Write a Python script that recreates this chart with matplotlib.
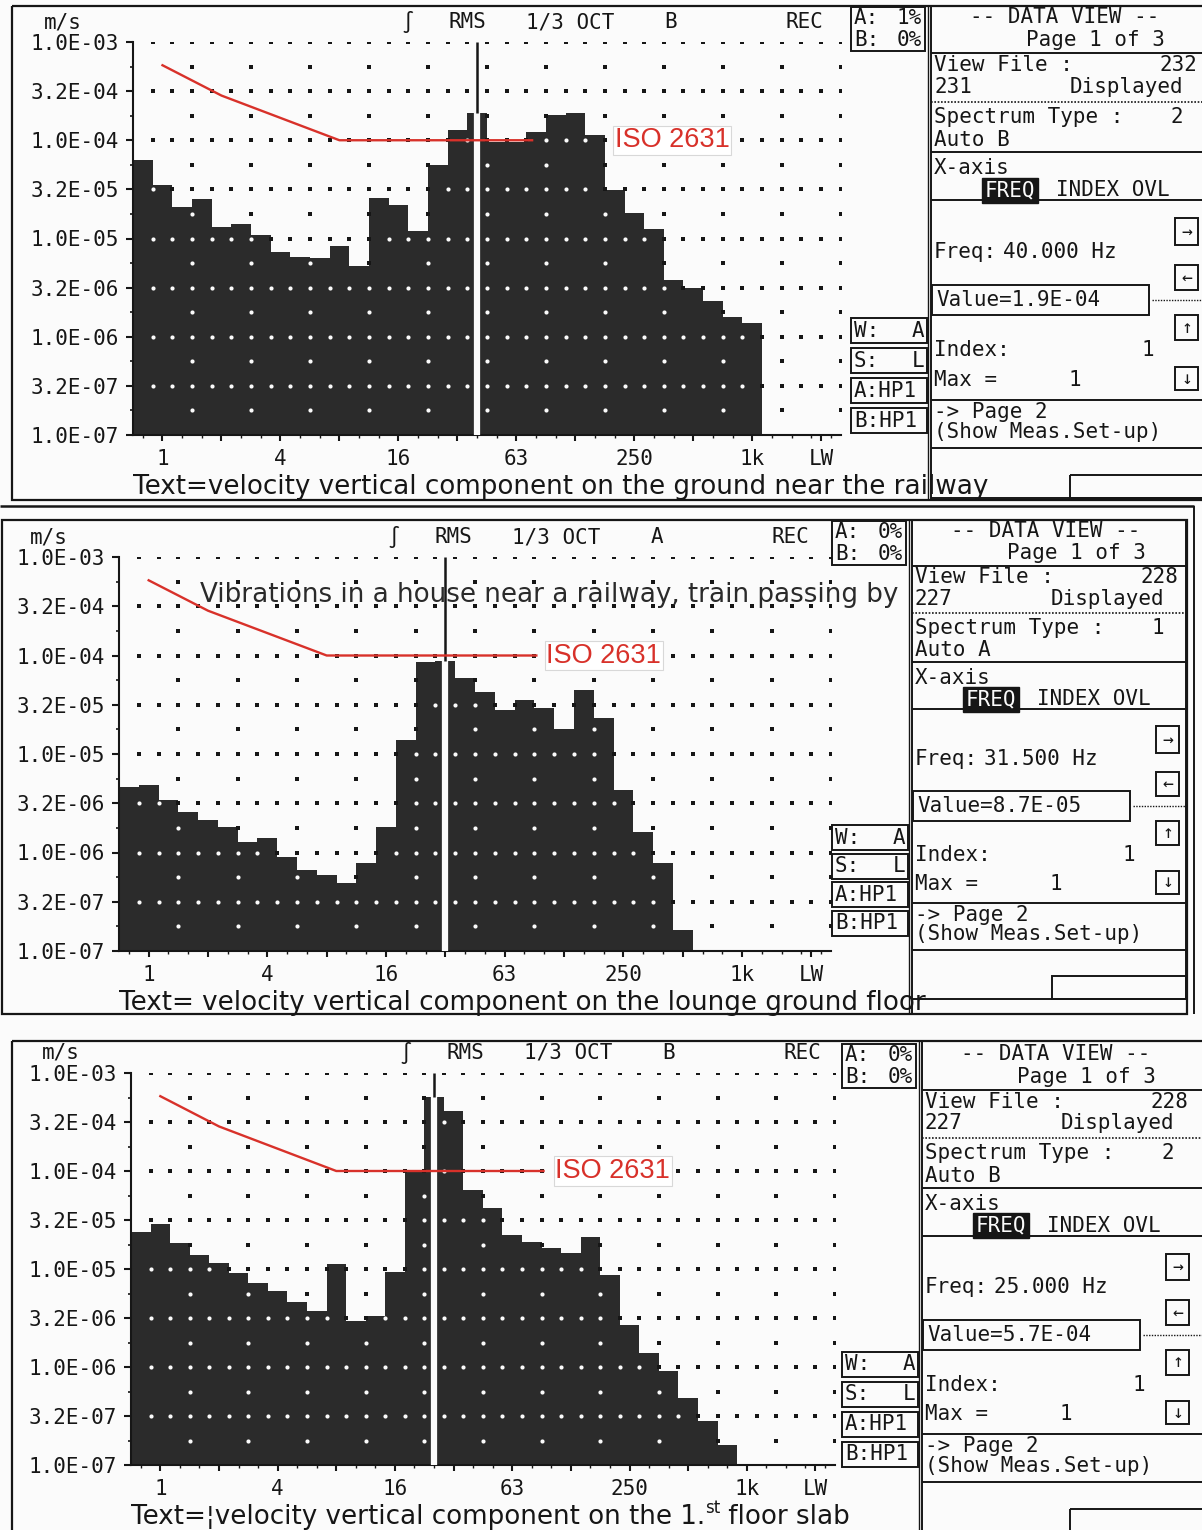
"""Three RMS 1/3-octave velocity spectra of a passing train, redrawn as the
analyser's DATA VIEW screen dumps (ground near the track, lounge floor, 1st floor slab).
Log velocity axis 1e-7..1e-3 m/s, ISO 2631 reference curve in red, cursor band marked.
"""
import numpy as np
import matplotlib

matplotlib.use("Agg")
import matplotlib.pyplot as plt
from matplotlib.patches import Rectangle
from matplotlib.ticker import FixedLocator, NullFormatter

W, H, DPI = 1202, 1530, 100

# 1/3-octave band centres shown on the analyser (Hz)
BANDS = [0.8, 1, 1.25, 1.6, 2, 2.5, 3.15, 4, 5, 6.3, 8, 10, 12.5, 16, 20, 25,
         31.5, 40, 50, 63, 80, 100, 125, 160, 200, 250, 315, 400, 500, 630, 800, 1000]

# RMS velocity per band, m/s
GROUND = [6.3e-5, 3.5e-5, 2.1e-5, 2.5e-5, 1.3e-5, 1.4e-5, 1.09e-5, 7.3e-6, 6.5e-6, 6.3e-6,
          8.3e-6, 5.2e-6, 2.6e-5, 2.2e-5, 1.2e-5, 5.6e-5, 1.27e-4, 1.9e-4, 9.5e-5, 9.5e-5,
          1.22e-4, 1.8e-4, 1.9e-4, 1.13e-4, 3.1e-5, 1.8e-5, 1.24e-5, 3.8e-6, 3.1e-6, 2.3e-6,
          1.6e-6, 1.39e-6]
LOUNGE = [4.66e-6, 4.8e-6, 3.4e-6, 2.6e-6, 2.14e-6, 1.83e-6, 1.29e-6, 1.39e-6, 9.1e-7, 6.6e-7,
          5.9e-7, 4.9e-7, 7.8e-7, 1.83e-6, 1.39e-5, 8.5e-5, 8.7e-5, 5.9e-5, 4.3e-5, 2.8e-5,
          3.5e-5, 2.9e-5, 1.8e-5, 4.5e-5, 2.3e-5, 4.3e-6, 1.63e-6, 7.8e-7, 1.63e-7]
FLOOR = [2.4e-5, 2.9e-5, 1.83e-5, 1.39e-5, 1.15e-5, 9.1e-6, 7.2e-6, 5.9e-6, 4.6e-6, 3.7e-6,
         1.12e-5, 2.95e-6, 3.3e-6, 9.4e-6, 1.0e-4, 5.7e-4, 4.05e-4, 6.4e-5, 4.2e-5, 2.2e-5,
         1.9e-5, 1.63e-5, 1.45e-5, 2.1e-5, 8.7e-6, 2.7e-6, 1.38e-6, 9.0e-7, 4.8e-7, 2.8e-7,
         1.6e-7]
CURSOR_FREQ = [40, 31.5, 25]

# ISO 2631 reference curve (velocity)
ISO_FREQ = [1, 2, 8]
ISO_VEL = [5.8e-4, 2.85e-4, 1.0e-4]

OCTAVE_FREQS = [1, 2, 4, 8, 16, 31.5, 63, 125, 250, 500, 1000]
LABEL_FREQS = [1, 4, 16, 63, 250, 1000]
LABEL_TEXT = ["1", "4", "16", "63", "250", "1k"]
Y_TICK_LABELS = ["1.0E-07", "3.2E-07", "1.0E-06", "3.2E-06", "1.0E-05",
                 "3.2E-05", "1.0E-04", "3.2E-04", "1.0E-03"]

# caption segments: (text, superscript?)
CAPTIONS = [[("Text=velocity vertical component on the ground near the railway", False)],
            [("Text= velocity vertical component on the lounge ground floor", False)],
            [("Text=\u00a6velocity vertical component on the 1.", False), ("st", True),
             (" floor slab", False)]]
TITLE = "Vibrations in a house near a railway, train passing by"
CHANNEL = ["B", "A", "B"]
OVERLOAD_A = ["1%", "0%", "0%"]
VIEW_FILE = ["232", "228", "228"]
DISPLAYED = ["231", "227", "227"]
SPEC_TYPE = ["2", "1", "2"]

# screen layout, pixels
AX_LEFT = [133, 119, 131]
AX_TOP = [42, 557, 1073]
AX_BOTTOM = [435, 951, 1465]
BAND_W = [19.66, 19.78, 19.55]
N_SLOTS = 36
LW_SLOT = 35.0
INFO_X = [931, 912, 922]
INFO_TOP = [6, 520, 1043]
INFO_SCALE = [1.0, 0.973, 0.993]
INFO_RIGHT = [1204, 1186, 1204]
FRAMES = [(12, 6, 1204, 500), (2, 520, 1187, 1014), (12, 1041, 1204, 1532)]
BADGE_TOP = [318, 825, 1352]
BADGE_STEP = [30, 28.5, 30]
ISO_END = [20.3, 21.1, 21.1]
ISO_LABEL_X = [24.5, 21.6, 21.7]

MONO = ["DejaVu Sans Mono", "DejaVu Sans"]
SANS = "DejaVu Sans"
INK = "#161616"
BAR = "#2b2b2b"
PAPER = "#fbfbfb"
ISO_RED = "#d8312a"
Y_MIN, Y_MAX = 1e-7, 1e-3

fig = plt.figure(figsize=(W / DPI, H / DPI), dpi=DPI, facecolor=PAPER)
ov = fig.add_axes([0, 0, 1, 1], zorder=0)
ov.set_xlim(0, W)
ov.set_ylim(H, 0)
ov.axis("off")
renderer = fig.canvas.get_renderer()


def box(x0, y0, x1, y1, lw=1.4):
    ov.add_patch(Rectangle((x0, y0), x1 - x0, y1 - y0, fill=False, edgecolor=INK, linewidth=lw))


def line(xs, ys, lw=1.4, ls="-"):
    ov.plot(xs, ys, color=INK, linewidth=lw, linestyle=ls, solid_capstyle="butt")


def label(x, y, s, size=15, ha="left", family=MONO, color=INK, **kw):
    return ov.text(x, y, s, fontsize=size, ha=ha, va="center", family=family, color=color, **kw)


def band_x(freq):
    return BANDS.index(freq) + 0.5


def caption(segments, x, y):
    for s, sup in segments:
        t = label(x, y - 9 if sup else y, s, size=12 if sup else 18.8, family=SANS)
        bb = t.get_window_extent(renderer)
        x = ov.transData.inverted().transform((bb.x1, bb.y0))[0]


def draw_info(p, freq, value):
    x0, t, s, xr = INFO_X[p], INFO_TOP[p], INFO_SCALE[p], INFO_RIGHT[p]

    def Y(d):
        return t + d * s

    fx0, fy0, fx1, fy1 = FRAMES[p]
    line([x0 - 3, x0 - 3], [fy0, fy1], lw=1.0)
    line([x0, x0], [fy0, fy1], lw=1.4)
    for d in (47, 146, 194, 394, 442, 492):
        line([x0, xr], [Y(d), Y(d)])
    line([xr, xr], [t, Y(492)])
    line([x0, xr], [Y(96), Y(96)], lw=1.2, ls=(0, (1, 1)))

    label(x0 + 134, Y(11), "-- DATA VIEW --", ha="center")
    label(x0 + 164, Y(34), "Page 1 of 3", ha="center")
    label(x0 + 3, Y(59), "View File :")
    label(x0 + 266, Y(59), VIEW_FILE[p], ha="right")
    label(x0 + 3, Y(81), DISPLAYED[p])
    label(x0 + 252, Y(81), "Displayed", ha="right")
    label(x0 + 3, Y(111), "Spectrum Type :")
    label(x0 + 246, Y(111), SPEC_TYPE[p], ha="center")
    label(x0 + 3, Y(134), f"Auto {CHANNEL[p]}")
    label(x0 + 3, Y(162), "X-axis")
    label(x0 + 79, Y(184), "FREQ", ha="center", color=PAPER,
          bbox=dict(boxstyle="square,pad=0.12", fc=INK, ec=INK))
    label(x0 + 125, Y(184), "INDEX OVL")
    label(x0 + 3, Y(246), "Freq:")
    label(x0 + 72, Y(246), f"{freq:.3f} Hz")
    box(x0 + 1, Y(279), x0 + 218, Y(309))
    label(x0 + 5, Y(294), f"Value={value:.1E}")
    line([x0 + 221, xr], [Y(294), Y(294)], lw=1.0, ls=(0, (1, 1)))
    label(x0 + 3, Y(344), "Index:")
    label(x0 + 217, Y(344), "1", ha="center")
    label(x0 + 3, Y(374), "Max =")
    label(x0 + 144, Y(374), "1", ha="center")
    label(x0 + 3, Y(406), "-> Page 2")
    label(x0 + 3, Y(426), "(Show Meas.Set-up)")
    for arrow, d0, d1 in zip("\u2192\u2190\u2191\u2193", [212, 259, 309, 361], [239, 284, 334, 384]):
        box(x0 + 244, Y(d0), x0 + 267, Y(d1))
        label(x0 + 255.5, (Y(d0) + Y(d1)) / 2, arrow, ha="center", size=13)
    box(xr - 134, Y(469), xr, Y(492))

    # A/B overload badge at top, weighting badges at the bottom of the plot
    box(x0 - 80, t + 1, x0 - 6, t + 45)
    label(x0 - 77, t + 12, "A:")
    label(x0 - 9, t + 12, OVERLOAD_A[p], ha="right")
    label(x0 - 77, t + 34, "B:")
    label(x0 - 9, t + 34, "0%", ha="right")
    for k, (lt, rt) in enumerate([("W:", "A"), ("S:", "L"), ("A:HP1", ""), ("B:HP1", "")]):
        y0 = BADGE_TOP[p] + k * BADGE_STEP[p]
        box(x0 - 80, y0, x0 - 4, y0 + 25)
        label(x0 - 77, y0 + 12.5, lt)
        if rt:
            label(x0 - 7, y0 + 12.5, rt, ha="right")


def draw_panel(p, levels):
    levels = np.asarray(levels)
    n = len(levels)
    left, top, bottom, bw = AX_LEFT[p], AX_TOP[p], AX_BOTTOM[p], BAND_W[p]
    ax = fig.add_axes([left / W, 1 - bottom / H, N_SLOTS * bw / W, (bottom - top) / H], zorder=1)
    ax.set_facecolor("none")
    ax.set_yscale("log")
    ax.set_xlim(0, N_SLOTS)
    ax.set_ylim(Y_MIN, Y_MAX)

    ax.bar(np.arange(n), levels - Y_MIN, bottom=Y_MIN, width=1.0, align="edge",
           color=BAR, linewidth=0, zorder=2)

    # dotted screen grid: dense rows every half decade, sparse rows in between
    def level_at(j):
        return levels[j] if 0 <= j < n else 0.0

    for e in np.arange(-6.75, -2.99, 0.25):
        y = 10.0 ** e
        major = abs(e * 2 - round(e * 2)) < 1e-9
        edges = np.arange(1, N_SLOTS + 1) if major else np.arange(3, N_SLOTS + 1, 3)
        inside = np.array([y < min(level_at(k - 1), level_at(k)) for k in edges])
        ax.scatter(edges[~inside], np.full((~inside).sum(), y), s=5, marker="s",
                   color=INK, linewidths=0, zorder=3)
        ax.scatter(edges[inside], np.full(inside.sum(), y), s=9, marker="o",
                   color=PAPER, linewidths=0, zorder=3)

    # cursor band
    cx = band_x(CURSOR_FREQ[p])
    cv = levels[BANDS.index(CURSOR_FREQ[p])]
    ax.plot([cx, cx], [Y_MIN, cv], color=PAPER, linewidth=4.5, solid_capstyle="butt", zorder=3.5)
    ax.plot([cx, cx], [cv, Y_MAX], color=INK, linewidth=1.8, solid_capstyle="butt", zorder=3.5)

    # ISO 2631 reference
    xs = [band_x(f) for f in ISO_FREQ] + [ISO_END[p]]
    ax.plot(xs, ISO_VEL + [ISO_VEL[-1]], color=ISO_RED, linewidth=1.7, zorder=4)
    ax.text(ISO_LABEL_X[p], ISO_VEL[-1], "ISO 2631", color=ISO_RED, fontsize=19.5,
            family="Liberation Sans", ha="left", va="center", zorder=5,
            bbox=dict(boxstyle="square,pad=0.06", fc="white", ec="#d8d8d8", lw=0.8))

    for side in ("top", "right"):
        ax.spines[side].set_visible(False)
    for side in ("left", "bottom"):
        ax.spines[side].set_color(INK)
        ax.spines[side].set_linewidth(1.5)

    ax.set_yticks(10.0 ** np.arange(-7, -2.9, 0.5), labels=Y_TICK_LABELS,
                  fontfamily=MONO, fontsize=15, color=INK)
    ax.yaxis.set_minor_locator(FixedLocator(10.0 ** np.arange(-6.75, -3, 0.5)))
    ax.yaxis.set_minor_formatter(NullFormatter())
    xt = [band_x(f) for f in OCTAVE_FREQS] + [LW_SLOT]
    xl = [LABEL_TEXT[LABEL_FREQS.index(f)] if f in LABEL_FREQS else "" for f in OCTAVE_FREQS] + ["LW"]
    ax.set_xticks(xt, labels=xl, fontfamily=MONO, fontsize=15, color=INK)
    ax.xaxis.set_minor_locator(FixedLocator(np.arange(0.5, N_SLOTS, 1.0)))
    ax.tick_params(axis="y", which="major", direction="out", length=5, width=1.5, pad=5, colors=INK)
    ax.tick_params(axis="y", which="minor", direction="out", length=2.5, width=1.2, colors=INK)
    ax.tick_params(axis="x", which="major", direction="out", length=4, width=1.5, pad=6, colors=INK)
    ax.tick_params(axis="x", which="minor", direction="out", length=2, width=1.0, colors=INK)

    # header line above the plot
    hy = top - 20
    label(left - 70, hy, "m/s", ha="center")
    for dx, s in zip([275, 334, 437, 538, 671], ["\u222b", "RMS", "1/3 OCT", CHANNEL[p], "REC"]):
        label(left + dx, hy, s, ha="center")

    caption(CAPTIONS[p], left, bottom + 52)
    if p == 1:
        ax.text(200, 595, TITLE, transform=ov.transData, fontsize=18.8, family=SANS,
                color="#2a2a2a", ha="left", va="center", zorder=5)
    return ax, cv


for p, levels in enumerate([GROUND, LOUNGE, FLOOR]):
    fx0, fy0, fx1, fy1 = FRAMES[p]
    box(fx0, fy0, fx1, fy1, lw=1.6)
    ax, cv = draw_panel(p, levels)
    draw_info(p, CURSOR_FREQ[p], cv)

# scan edge around the middle screen
line([0, 1194], [506, 506], lw=1.8)
line([1194, 1194], [506, 1014], lw=1.4)

fig.savefig("out.png", dpi=DPI, facecolor=PAPER)
